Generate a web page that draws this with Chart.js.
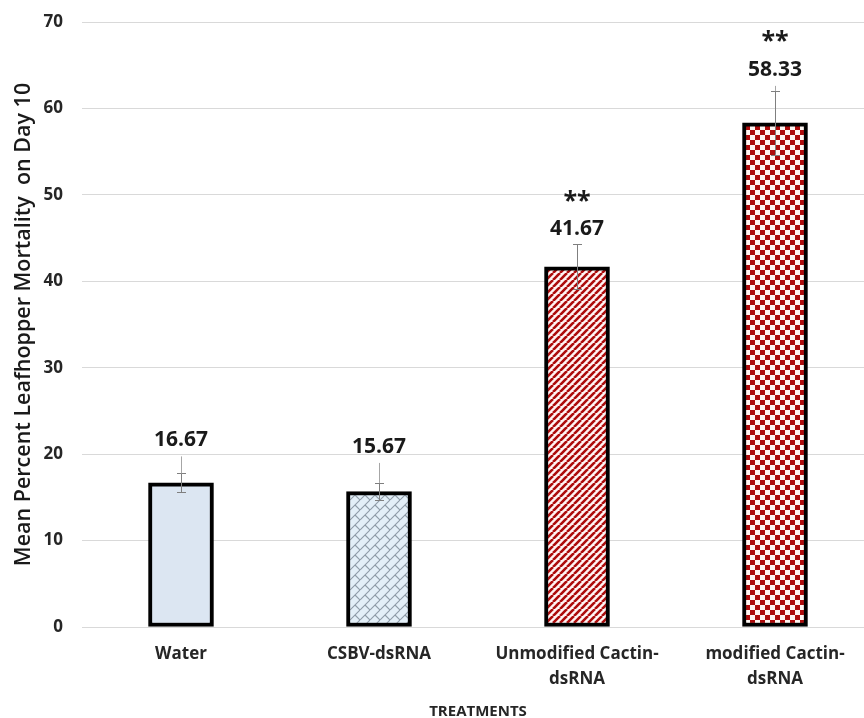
<!DOCTYPE html>
<html>
<head>
<meta charset="utf-8">
<script src="https://cdn.jsdelivr.net/npm/chart.js@4/dist/chart.umd.min.js"></script>
<style>
  html, body { margin: 0; padding: 0; background: #fff; overflow: hidden; }
  #wrap { width: 864px; height: 718px; overflow: hidden; }
  canvas { display: block; }
</style>
</head>
<body>
<div id="wrap"><canvas id="chart" width="874" height="718"></canvas></div>
<script>
// Treatments and their mean leafhopper mortality (%) on day 10
const treatments = [
  ["Water"],
  ["CSBV-dsRNA"],
  ["Unmodified Cactin-", "dsRNA"],
  ["modified Cactin-", "dsRNA"]
];
const meanMortality = [16.67, 15.67, 41.67, 58.33];
const errorMargin = [1.1, 1.0, 2.6, 3.7];
const significance = ["", "", "**", "**"];
const yTicks = [0, 10, 20, 30, 40, 50, 60, 70];

const FONT = "'Open Sans', 'DejaVu Sans', sans-serif";

// ---- fill patterns ----
function tile(size, draw) {
  const c = document.createElement('canvas');
  c.width = size; c.height = size;
  const g = c.getContext('2d');
  draw(g, size);
  return document.createElement('canvas').getContext('2d').createPattern(c, 'repeat');
}

const brickPattern = tile(10, (g, s) => {
  g.fillStyle = '#e3eff8';
  g.fillRect(0, 0, s, s);
  g.strokeStyle = '#8e9ba8';
  g.lineWidth = 1.1;
  g.beginPath();
  for (const k of [-s, 0, s]) {
    g.moveTo(k, s); g.lineTo(k + s, 0);
  }
  g.moveTo(s / 2, s / 2); g.lineTo(s, s);
  g.moveTo(-s / 2, s / 2); g.lineTo(0, s);
  g.stroke();
});

const stripePattern = tile(7, (g, s) => {
  g.fillStyle = '#fff4f4';
  g.fillRect(0, 0, s, s);
  g.strokeStyle = '#ad0c0c';
  g.lineWidth = 2.6;
  g.beginPath();
  for (const k of [-s, 0, s]) {
    g.moveTo(k, s); g.lineTo(k + s, 0);
  }
  g.stroke();
});

const checkerPattern = tile(10, (g, s) => {
  g.fillStyle = '#fff6f2';
  g.fillRect(0, 0, s, s);
  g.fillStyle = '#ad0c0c';
  g.fillRect(0, 0, s / 2, s / 2);
  g.fillRect(s / 2, s / 2, s / 2, s / 2);
});

const barFills = ['#dce6f2', brickPattern, stripePattern, checkerPattern];

// ---- error bars, value labels and significance stars ----
const annotations = {
  id: 'annotations',
  afterDatasetsDraw(chart, args, opts) {
    const { ctx, scales: { y } } = chart;
    const meta = chart.getDatasetMeta(0);
    ctx.save();
    meta.data.forEach((bar, i) => {
      const cx = bar.x;
      const v = meanMortality[i];
      const e = errorMargin[i];
      const yHi = y.getPixelForValue(v + e);
      const yLo = y.getPixelForValue(v - e);

      // error bar
      ctx.strokeStyle = '#7f7f7f';
      ctx.lineWidth = 1;
      ctx.beginPath();
      ctx.moveTo(cx + 0.5, yHi); ctx.lineTo(cx + 0.5, yLo);
      ctx.moveTo(cx - 4, Math.round(yHi) + 0.5); ctx.lineTo(cx + 5, Math.round(yHi) + 0.5);
      ctx.moveTo(cx - 4, Math.round(yLo) + 0.5); ctx.lineTo(cx + 5, Math.round(yLo) + 0.5);
      ctx.stroke();

      // value label
      const labelY = yHi - opts.labelLift[i];
      ctx.font = `bold 21px ${FONT}`;
      ctx.fillStyle = '#1a1a1a';
      ctx.textAlign = 'center';
      ctx.textBaseline = 'middle';
      ctx.fillText(v.toFixed(2), cx, labelY);

      // leader line from label down to the error bar
      const leadTop = labelY + 16;
      if (leadTop < yHi) {
        ctx.strokeStyle = '#a6a6a6';
        ctx.beginPath();
        ctx.moveTo(cx + 0.5, leadTop); ctx.lineTo(cx + 0.5, yHi);
        ctx.stroke();
      }

      // significance marker
      if (significance[i]) {
        ctx.font = `bold 25px ${FONT}`;
        ctx.fillStyle = '#1a1a1a';
        ctx.fillText(significance[i], cx, labelY - 33 + 5);
      }
    });
    ctx.restore();
  }
};

new Chart(document.getElementById('chart'), {
  type: 'bar',
  data: {
    labels: treatments,
    datasets: [{
      data: meanMortality,
      backgroundColor: barFills,
      borderColor: '#000',
      borderWidth: 4,
      borderSkipped: false,
      barThickness: 65
    }]
  },
  options: {
    responsive: false,
    animation: false,
    layout: { padding: { top: 22, left: 11, right: 0, bottom: 0 } },
    plugins: {
      legend: { display: false },
      tooltip: { enabled: false },
      annotations: { labelLift: [33, 36, 15, 21] }
    },
    scales: {
      x: {
        grid: { display: false },
        border: { display: false },
        ticks: {
          color: '#262626',
          font: { family: FONT, size: 17, weight: 'bold', lineHeight: 1.5 },
          padding: 6,
          maxRotation: 0
        },
        title: {
          display: true,
          text: 'TREATMENTS',
          color: '#262626',
          font: { family: FONT, size: 15, weight: 'bold' },
          padding: { top: 0, bottom: -3 }
        },
        afterFit(s) { s.height = 91; }
      },
      y: {
        min: 0,
        max: 70,
        afterBuildTicks(s) { s.ticks = yTicks.map(v => ({ value: v })); },
        grid: { color: '#d9d9d9', lineWidth: 1, drawTicks: false },
        border: { display: false },
        ticks: {
          color: '#262626',
          font: { family: FONT, size: 17, weight: 'bold' },
          padding: 19
        },
        title: {
          display: true,
          text: 'Mean Percent Leafhopper Mortality  on Day 10',
          color: '#1a1a1a',
          font: { family: FONT, size: 21.5, weight: '600' },
          padding: { top: 0, bottom: 0 }
        },
        afterFit(s) { s.width = 71; s.paddingTop = 0; s.paddingBottom = 0; }
      }
    }
  },
  plugins: [annotations]
});
</script>
</body>
</html>
